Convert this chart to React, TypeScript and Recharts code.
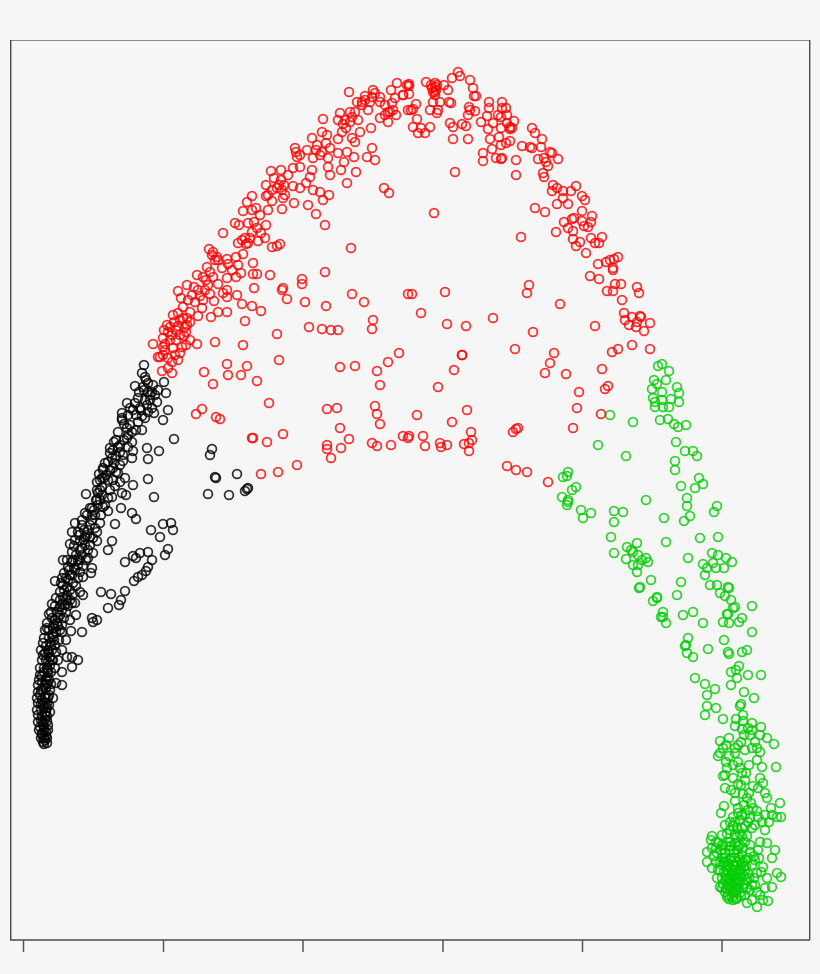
import React from "react";
import { ScatterChart, Scatter, XAxis, YAxis, ReferenceLine } from "recharts";

type P = [number, number];

const xTicks = [23.5, 163.5, 303, 443, 582.5, 722];

const redRight: P[] = [
[458,72],[460,76],[452,78],[470,80],[426,82],[409,84],[409,86],[435,83],[444,85],[432,88],[435,87],[448,90],[473,88],[435,92],[435,95],[476,96],[474,96],[403,95],[409,94],[433,102],[440,102],[449,102],[451,103],[416,104],[411,110],[413,109],[430,110],[438,110],[437,113],[469,107],[470,110],[475,111],[468,115],[489,102],[489,108],[502,102],[502,108],[506,108],[487,116],[498,115],[507,115],[501,117],[514,121],[481,122],[493,123],[450,123],[453,127],[462,124],[466,126],[417,119],[413,127],[430,127],[421,128],[418,133],[425,133],[488,129],[501,128],[510,127],[512,128],[510,129],[507,123],[453,139],[468,139],[490,139],[499,137],[510,141],[506,143],[501,145],[532,128],[535,133],[542,139],[522,146],[530,147],[532,148],[541,147],[492,149],[483,153],[483,161],[496,158],[501,159],[502,158],[516,160],[538,159],[550,152],[552,153],[558,159],[544,158],[546,162],[548,166],[543,173],[544,177],[516,175],[455,172],[553,185],[557,188],[552,191],[563,191],[576,186],[571,191],[582,196],[585,200],[563,198],[557,204],[568,204],[535,208],[545,212],[582,211],[592,216],[564,222],[572,219],[574,218],[582,221],[591,222],[584,226],[588,227],[568,228],[573,231],[556,232],[521,237],[591,238],[602,237],[573,239],[580,242],[576,246],[595,243],[599,243],[586,253],[598,264],[606,262],[610,260],[614,259],[618,257],[613,268],[613,270],[590,276],[599,279],[615,284],[621,284],[637,287],[639,293],[607,291],[613,291],[622,300],[529,285],[527,293],[560,304],[412,294],[445,292],[421,313],[447,324],[466,326],[493,318],[533,332],[595,326],[624,313],[625,320],[629,325],[632,317],[640,316],[641,317],[637,322],[636,327],[650,323],[644,331],[632,345],[618,349],[612,352],[650,349],[515,349],[554,353],[462,355],[434,213]
];

const redLeft: P[] = [
[397,83],[407,85],[373,90],[349,92],[391,90],[375,93],[365,96],[403,95],[357,102],[362,102],[370,102],[380,102],[395,98],[392,103],[368,110],[380,118],[388,122],[396,115],[390,112],[340,113],[323,119],[352,117],[358,120],[338,120],[343,124],[371,128],[360,132],[408,110],[322,132],[327,135],[312,138],[338,139],[352,138],[355,142],[317,145],[295,148],[372,148],[307,150],[320,155],[338,153],[347,152],[367,157],[375,160],[297,157],[313,158],[328,158],[354,157],[344,162],[328,167],[300,167],[293,168],[312,170],[341,170],[356,172],[271,171],[281,170],[330,175],[288,175],[310,177],[274,178],[347,183],[306,183],[266,185],[293,186],[300,188],[277,188],[282,190],[313,190],[320,192],[384,188],[389,193],[329,195],[252,196],[266,196],[323,200],[283,198],[272,201],[247,202],[294,203],[308,205],[268,210],[282,209],[256,208],[243,211],[252,210],[316,214],[260,215],[235,223],[239,225],[248,223],[266,225],[325,225],[223,233],[261,233],[245,238],[265,238],[258,241],[238,243],[248,243],[280,244],[272,247],[277,246],[351,248],[209,249],[213,252],[217,257],[236,257],[243,254],[227,259],[218,260],[207,267],[253,263],[238,265],[232,270],[325,272],[241,273],[253,274],[257,274],[270,275],[197,275],[213,277],[227,278],[236,277],[302,279],[302,284],[187,285],[194,287],[208,285],[218,284],[254,288],[283,288],[282,290],[178,291],[205,290],[227,290],[223,293],[352,294],[237,295],[408,294],[181,298],[227,297],[287,299],[364,302],[305,302],[195,302],[203,300],[214,301],[242,304],[326,306],[252,306],[183,307],[202,308],[218,312],[227,312],[261,311],[190,312],[173,315],[178,313],[198,316],[211,317],[373,320],[245,321],[167,325],[187,325],[309,327],[322,329],[331,330],[338,330],[372,329],[168,332],[180,335],[277,334],[190,340],[197,344],[215,342],[243,345],[163,338],[153,344],[182,347],[173,348],[163,347],[160,357],[180,353],[399,353],[279,360],[163,355],[158,357],[172,362],[162,371],[172,373],[168,368],[185,327],[186,332],[176,330],
[212,255],[215,260],[222,268],[228,264],[203,277],[206,280],[210,272],[198,290],[200,296],[210,294],[188,300],[192,295],[180,320],[183,318],[187,318],[190,322],[170,327],[174,322],[178,326],[186,345],[176,340],[170,340],[164,330],[165,350],[175,355],[168,358],[178,360],[165,344],[184,336],[172,335],[242,240],[246,244],[250,238],[252,232],[268,195],[272,190],[279,185],[281,180],[284,185],[285,195],[296,152],[300,155],[316,150],[322,152],[326,143],[330,148],[345,120],[350,112],[355,112],[362,105],[365,100],[372,97],[380,97],[385,105],[388,112],[393,110],[385,115],[350,122],[346,128],[342,132],[254,222],[257,228],[436,90],[433,92],[437,85],[431,85]
];

const redCentre: P[] = [
[204,372],[227,364],[247,366],[228,375],[241,375],[213,384],[257,381],[340,367],[355,366],[377,371],[388,362],[462,355],[454,370],[438,387],[380,385],[269,403],[202,409],[196,414],[216,417],[220,419],[327,409],[337,408],[375,406],[377,414],[380,424],[417,415],[452,422],[467,410],[340,428],[349,439],[327,445],[327,449],[341,448],[331,458],[252,438],[253,438],[267,442],[283,434],[372,443],[377,446],[391,445],[403,436],[409,436],[408,438],[423,436],[425,446],[440,443],[441,447],[447,445],[464,444],[469,443],[472,440],[471,432],[469,451],[261,474],[278,472],[297,465],[550,363],[545,373],[566,374],[602,369],[608,386],[605,389],[579,392],[577,408],[601,414],[573,428],[548,482],[516,429],[513,432],[518,428],[507,466],[516,470],[527,472]
];

const blackLoose: P[] = [
[144,365],[142,373],[145,377],[135,386],[148,383],[153,385],[143,387],[164,382],[158,390],[166,393],[148,392],[127,403],[135,403],[145,400],[157,402],[130,408],[140,408],[152,408],[168,410],[122,413],[122,418],[154,413],[145,418],[138,422],[163,420],[142,430],[127,428],[132,432],[174,439],[114,442],[127,438],[147,448],[159,451],[133,451],[120,452],[110,453],[148,459],[132,458],[123,461],[105,463],[114,463],[113,468],[103,470],[118,473],[99,474],[148,479],[125,478],[97,482],[108,480],[120,482],[133,485],[102,487],[115,486],[86,494],[98,493],[122,493],[126,495],[154,497],[112,497],[97,500],[103,507],[121,508],[108,511],[90,508],[85,513],[95,515],[132,513],[136,519],[100,523],[115,524],[75,523],[82,525],[72,532],[78,532],[88,530],[97,532],[85,537],[90,537],[75,540],[97,541],[70,544],[151,530],[163,524],[171,523],[173,530],[160,537],[112,541],[108,550],[82,548],[88,550],[93,553],[168,549],[165,555],[148,552],[140,553],[133,556],[136,558],[125,562],[152,560],[63,560],[72,562],[78,560],[88,558],[92,568],[91,573],[148,567],[146,571],[142,575],[138,577],[134,581],[83,577],[75,570],[68,567],[55,581],[62,578],[73,583],[67,587],[80,592],[83,595],[125,591],[101,592],[111,594],[121,600],[119,605],[108,608],[63,597],[72,603],[52,604],[75,603],[60,607],[49,614],[76,615],[70,620],[92,618],[93,622],[97,620],[47,623],[57,623],[71,631],[82,632],[62,632],[45,630],[53,637],[66,640],[43,643],[55,645],[62,650],[67,657],[72,657],[78,660],[72,667],[45,653],[42,660],[53,660],[62,672],[62,685],[56,683],[40,675],[48,673],[38,685],[53,698],[50,690],[40,695],[47,703],[38,703],[50,712],[38,715],[45,720],[48,725],[40,727],[42,733],[47,738],[43,742],[47,743],
[212,449],[210,455],[215,477],[216,478],[237,474],[208,494],[229,495],[245,491],[247,489],[248,488]
];

const blackCore: P[] = [
[42,735],[44,738],[45,740],[44,730],[46,732],[41,720],[43,722],[47,716],[41,710],[44,708],[47,708],[42,700],[45,698],[49,695],[43,690],[46,688],[42,682],[46,680],[49,680],[44,672],[47,668],[50,665],[46,660],[50,657],[48,650],[52,650],[50,643],[54,640],[49,637],[56,632],[53,628],[58,626],[55,620],[60,615],[57,612],[62,610],[65,605],[60,600],[67,595],[64,590],[70,590],[68,580],[72,575],[74,568],[78,565],[80,560],[76,555],[82,555],[85,545],[84,540],[90,525],[92,520],[94,510],[98,505],[100,500],[102,495],[100,480],[106,475],[110,470],[112,458],[116,456],[120,445],[124,440],[128,435],[130,425],[136,415],[141,410],[147,405],[150,395],[146,380],[152,392],
[43,725],[45,715],[43,705],[46,695],[45,685],[47,677],[48,662],[49,653],[51,646],[53,634],[54,624],[58,618],[62,604],[66,600],[63,585],[70,575],[73,560],[80,550],[87,535],[92,515],[100,490],[104,478],[113,450],[118,447],
[44,744],[41,738],[46,736],[39,730],[44,727],[48,730],[38,722],[42,716],[47,721],[37,710],[41,704],[46,712],[49,705],[37,698],[41,690],[45,703],[48,698],[38,692],[42,676],[51,684],[39,680],[44,668],[47,684],[40,668],[43,655],[48,670],[51,672],[41,650],[46,646],[52,660],[55,668],[44,638],[49,630],[56,652],[58,660],[47,628],[52,618],[59,640],[60,630],[51,612],[55,606],[62,625],[64,618],[56,598],[60,592],[66,612],[68,606],[61,583],[66,578],[70,600],[73,594],[64,573],[69,570],[76,586],[78,578],[67,560],[72,552],[80,572],[83,566],[74,546],[80,541],[86,560],[79,535],[84,530],[90,545],[93,538],[82,520],[87,515],[95,528],[92,508],[96,500],[101,515],[105,505],[97,490],[102,478],[108,498],[110,490],[103,468],[108,462],[113,480],[116,472],[110,448],[116,440],[120,465],[123,455],[118,432],[124,424],[128,447],[132,442],[122,420],[128,415],[136,430],[133,410],[138,398],[142,416],[148,412],[139,392],[144,390],[150,400],[155,395]
];

const greenUpper: P[] = [
[658,366],[662,364],[669,371],[654,380],[666,380],[657,384],[677,387],[652,389],[662,392],[679,393],[653,398],[662,400],[671,399],[655,402],[679,402],[655,407],[663,407],[669,407],[610,415],[633,422],[660,420],[668,419],[674,424],[678,427],[686,425],[598,445],[626,456],[676,442],[685,451],[693,451],[697,456],[675,461],[675,470],[699,478],[703,484],[695,488],[681,486],[568,472],[567,476],[563,477],[576,487],[572,490],[562,497],[568,500],[568,502],[567,505],[581,510],[583,518],[591,513],[614,511],[623,512],[614,522],[646,500],[664,518],[687,498],[687,506],[690,516],[684,521],[717,506],[714,512],[611,537],[614,553],[637,543],[627,547],[631,550],[633,552],[638,555],[626,559],[642,560],[646,558],[648,562],[633,565],[637,572],[638,565],[666,542],[700,538],[718,537],[688,558],[712,553],[718,555],[726,558],[732,562],[703,564],[713,563],[707,568],[716,568],[724,568],[705,575],[651,580],[681,582],[640,587],[639,588],[710,585],[717,585],[728,587],[729,588],[720,593],[725,596],[677,595],[657,597],[657,598],[653,601],[731,600],[752,606],[733,608],[735,607],[663,612],[663,617],[661,617],[666,623],[683,615],[693,612],[703,623],[727,614],[728,614],[723,622],[729,623],[739,622],[742,618],[752,632],[724,640],[688,638],[686,645],[685,646],[708,649],[728,652],[742,652],[747,650]
];

const greenLower: P[] = [
[687,653],[693,657],[729,654],[739,666],[731,672],[736,670],[737,678],[748,675],[761,675],[731,685],[695,678],[705,684],[715,689],[707,695],[744,692],[754,698],[741,704],[740,706],[707,706],[716,708],[705,715],[723,719],[743,715],[736,719],[735,726],[743,721],[752,723],[761,727],[742,729],[752,730],[750,735],[760,735],[767,738],[774,744],[720,741],[729,738],[741,742],[723,748],[735,748],[752,748],[757,748],[720,753],[718,756],[735,753],[760,752],[757,760],[726,762],[738,762],[733,765],[749,765],[727,768],[762,767],[776,767],[723,776],[725,775],[733,778],[742,773],[746,773],[738,784],[745,780],[725,788],[763,783],[753,786],[758,788],[743,794],[749,793],[765,793],[747,798],[767,798],[735,801],[751,803],[780,803],[724,806],[753,808],[771,808],[721,813],[738,813],[745,815],[733,817],[758,817],[765,815],[777,817],[781,817],[725,825],[730,822],[740,820],[750,818],[755,825],[765,830],[737,828],[727,834],[747,836],[712,836],[711,840],[737,837],[760,842],[767,843],[775,850],[712,848],[722,845],[707,852],[758,850],[772,858],[707,862],[717,853],[712,868],[725,853],[737,850],[750,852],[777,873],[781,877],[763,867],[717,878],[772,887],[720,887],[757,873],[767,878],[747,880],[763,900],[757,907],[747,903],[737,898],[727,897],[768,901],[730,880]
];

const greenCore: P[] = [
[730,860],[733,865],[728,870],[735,870],[738,875],[731,875],[726,880],[740,882],[735,880],[733,885],[728,885],[738,888],[743,888],[730,890],[735,892],[725,892],[740,893],[732,897],[728,895],[736,899],[745,860],[741,865],[722,865],[720,870],[745,870],[748,874],[752,865],[725,858],[735,858],[742,855],[730,850],[722,858],[716,862],[718,870],[722,878],[750,890],[755,885],[745,895],[752,900],[760,895],[755,860],[740,845],[730,842],[745,842],[735,835],[742,828],[730,830],[735,843],[718,843],[714,856],[722,888],[733,893],[729,880],[737,884],[741,877],[726,875],[732,870],[740,860],[733,875],[736,878],[731,883],[735,887],[727,889],[741,870],[744,866],[729,865],[724,872],[737,862],[748,858],
[724,862],[727,866],[731,858],[734,853],[739,857],[743,862],[746,866],[749,878],[744,876],[739,870],[735,866],[730,868],[726,862],[720,862],[716,848],[721,850],[726,846],[731,846],[738,846],[743,848],[750,845],[754,856],[759,858],[761,872],[754,878],[752,885],[744,884],[739,880],[734,876],[727,878],[723,884],[726,888],[731,886],[736,890],[741,896],[733,900],[729,899],[747,888],[757,892],[765,888],
[735,822],[742,815],[748,822],[752,828],[745,826],[740,834],[733,826],[738,808],[744,805],[748,810],[757,811],[762,822],[769,822],[772,815],[742,836],[728,842],[722,835],[716,842],
[744,735],[755,742],[748,728],[738,745],[745,750],[726,745],[729,756],[740,768],[731,790],[735,793],[741,785],[760,778]
];

const toRows = (points: P[]) => points.map(([x, y]) => ({ x, y }));
const black = toRows([...blackLoose, ...blackCore]);
const red = toRows([...redRight, ...redLeft, ...redCentre]);
const green = toRows([...greenUpper, ...greenLower, ...greenCore]);

const Ring = (color: string) => (props: any) => (
  <circle cx={props.cx} cy={props.cy} r={4.4} fill="none" stroke={color} strokeWidth={1.8} strokeOpacity={0.8} />
);

export default function App() {
  return (
    <div style={{ position: "fixed", left: 0, top: 0, width: 820, height: 974, background: "#f6f6f6" }}>
      <ScatterChart width={820} height={974} margin={{ top: 40, right: 10, bottom: 0, left: 10 }}>
        <XAxis
          type="number"
          dataKey="x"
          domain={[10, 810]}
          ticks={xTicks}
          height={34}
          allowDataOverflow
          tickSize={12}
          tick={() => <g />}
          axisLine={{ stroke: "#4a4a4a", strokeWidth: 1.5 }}
          tickLine={{ stroke: "#555555", strokeWidth: 1.5 }}
        />
        <YAxis
          type="number"
          dataKey="y"
          domain={[40, 940]}
          reversed
          width={0}
          allowDataOverflow
          tick={false}
          tickLine={false}
          axisLine={false}
        />
        <ReferenceLine y={40.5} stroke="#8c8c8c" strokeWidth={1.2} />
        <ReferenceLine x={10.7} stroke="#4a4a4a" strokeWidth={1.4} />
        <ReferenceLine x={809.7} stroke="#4a4a4a" strokeWidth={1.4} />
        <Scatter data={green} isAnimationActive={false} shape={Ring("#00cd00")} />
        <Scatter data={red} isAnimationActive={false} shape={Ring("#ff0000")} />
        <Scatter data={black} isAnimationActive={false} shape={Ring("#000000")} />
      </ScatterChart>
    </div>
  );
}
